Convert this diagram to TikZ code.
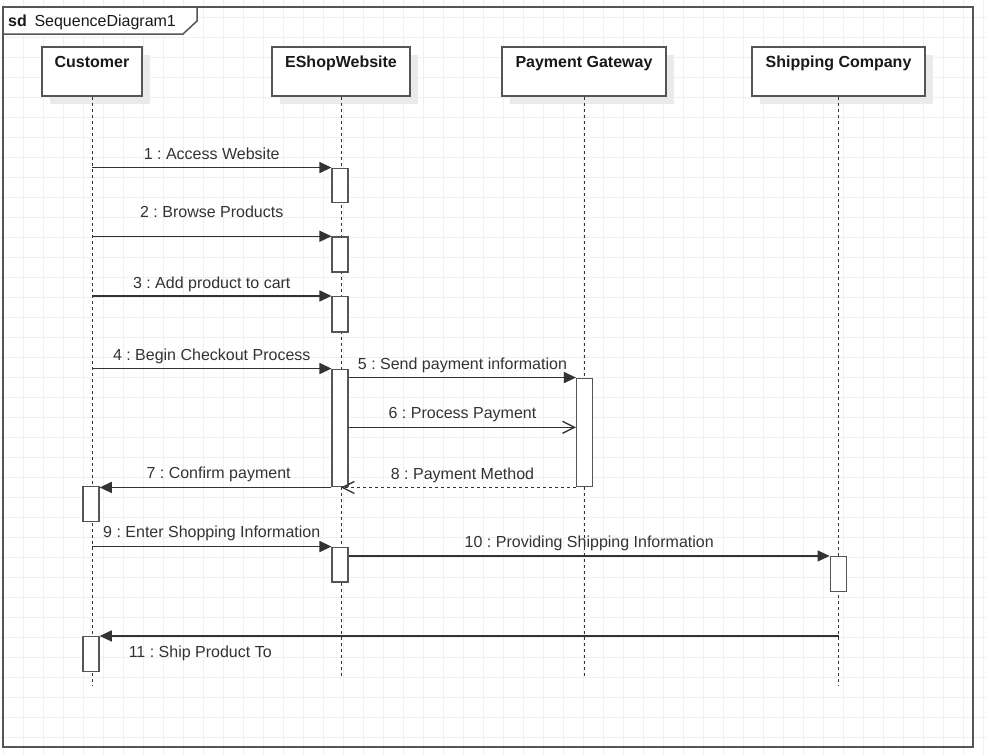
\documentclass[tikz,border=0pt]{standalone}
\usepackage{fontspec}
\setmainfont{Liberation Sans}
\usetikzlibrary{arrows.meta,shadows}
\definecolor{gridc}{HTML}{F0F0F0}
\definecolor{linec}{HTML}{333333}
\definecolor{boxc}{HTML}{555555}
\definecolor{shadowc}{HTML}{EAEAEA}
\definecolor{txtc}{HTML}{333333}
\frenchspacing
\begin{document}
\begin{tikzpicture}[x=1pt,y=-1pt,
  every node/.style={font=\fontsize{16pt}{19pt}\selectfont\frenchspacing},
  hdrbox/.style={draw=boxc, line width=1.5pt, fill=white, minimum height=49pt, inner sep=0pt,
    drop shadow={shadow xshift=8pt, shadow yshift=-8pt, fill=shadowc, opacity=1}},
  hdrtxt/.style={font=\fontsize{16pt}{19pt}\selectfont\bfseries, text=black!90, inner sep=0pt, text height=11.6pt, text depth=0pt},
  life/.style={draw=linec, line width=1pt, dash pattern=on 3pt off 3pt},
  actbox/.style={draw=boxc, line width=1.5pt, fill=white, minimum width=16pt, inner sep=0pt},
  msg/.style={draw=linec, line width=1.4pt, -{Triangle[length=12pt,width=11pt]}},
  msgopen/.style={draw=linec, line width=1.3pt, -{Straight Barb[length=12pt,width=12pt]}},
  msgret/.style={msgopen, dash pattern=on 3pt off 3pt},
  lbl/.style={text=txtc, inner sep=0pt, text height=11.6pt, text depth=0pt}
]
\useasboundingbox (0,0) rectangle (987,755);
\fill[white] (0,0) rectangle (987,755);
% grid
\foreach \gx in {3,23,...,983} \draw[gridc, line width=1pt] (\gx,0) -- (\gx,755);
\foreach \gy in {17,37,...,737} \draw[gridc, line width=1pt] (0,\gy) -- (987,\gy);
% frame
\draw[fill=white, draw=boxc, line width=1.5pt] (3,7) -- (197,7) -- (197,21) -- (183,34) -- (3,34);
\draw[draw=boxc, line width=2pt] (3,7) rectangle (973,747);
\node[anchor=base west, inner sep=0pt, font=\fontsize{16pt}{19pt}\selectfont\bfseries, text=black!90] (sdk) at (8,26.5) {sd};
\node[anchor=base west, inner sep=0pt, text=black!90] (sdname) at (34.3,26.5) {SequenceDiagram1};
% headers
\node[hdrbox, minimum width=100pt] (cust) at (92,71.5) {};
\node[hdrbox, minimum width=138pt] (eshop) at (341,71.5) {};
\node[hdrbox, minimum width=164pt] (pg) at (584,71.5) {};
\node[hdrbox, minimum width=173pt] (ship) at (838.5,71.5) {};
\node[hdrtxt] (custt) at ([yshift=-15.3pt]cust.north) {Customer};
\node[hdrtxt] (eshopt) at ([yshift=-15.3pt]eshop.north) {EShopWebsite};
\node[hdrtxt] (pgt) at ([yshift=-15.3pt]pg.north) {Payment Gateway};
\node[hdrtxt] (shipt) at ([yshift=-15.3pt]ship.north) {Shipping Company};
% lifelines
\coordinate (custend) at (92,685);
\coordinate (eshopend) at (341,677);
\coordinate (pgend) at (584,677);
\coordinate (shipend) at (838.5,685);
\draw[life] (cust.south) -- (custend);
\draw[life] (eshop.south) -- (eshopend);
\draw[life] (pg.south) -- (pgend);
\draw[life] (ship.south) -- (shipend);
% activations
\node[actbox, minimum height=34.4pt] (a1) at (340.2,185.5) {};
\node[actbox, minimum height=35pt] (a2) at (340.2,254.5) {};
\node[actbox, minimum height=35.3pt] (a3) at (340.2,314.35) {};
\node[actbox, minimum height=117.4pt] (a4) at (340.2,428) {};
\node[actbox, minimum height=34.7pt] (a5) at (340.2,564.65) {};
\node[actbox, minimum height=108.4pt] (p1) at (584.7,432.5) {};
\node[actbox, minimum height=35pt] (s1) at (838.3,574.2) {};
\node[actbox, minimum height=35pt] (c1) at (91,504.2) {};
\node[actbox, minimum height=35pt] (c2) at (91,654.2) {};
% messages
\coordinate (m6) at (0,427.3);
\draw[msg] (cust.south |- a1.north) -- node[lbl, yshift=14pt] (l1) {1 : Access Website} (a1.north west);
\draw[msg] (cust.south |- a2.north) -- node[lbl, yshift=24.7pt] (l2) {2 : Browse Products} (a2.north west);
\draw[msg] (cust.south |- a3.north) -- node[lbl, yshift=13.4pt] (l3) {3 : Add product to cart} (a3.north west);
\draw[msg] (cust.south |- a4.north) -- node[lbl, yshift=14.3pt] (l4) {4 : Begin Checkout Process} (a4.north west);
\draw[msg] (a4.east |- p1.north) -- node[lbl, yshift=14.3pt] (l5) {5 : Send payment information} (p1.north west);
\draw[msgopen] (a4.east |- m6) -- node[lbl, yshift=14.6pt] (l6) {6 : Process Payment} (p1.west |- m6);
\draw[msg] (a4.south west) -- node[lbl, yshift=14.4pt, xshift=3pt] (l7) {7 : Confirm payment} (a4.south west -| c1.east);
\draw[msgret] (p1.south west) -- node[lbl, yshift=13.4pt, xshift=4pt] (l8) {8 : Payment Method} (eshop.south |- p1.south);
\draw[msg] (cust.south |- a5.north) -- node[lbl, yshift=14.6pt] (l9) {9 : Enter Shopping Information} (a5.north west);
\draw[msg] (a5.east |- s1.north) -- node[lbl, yshift=14pt] (l10) {10 : Providing Shipping Information} (s1.north west);
\draw[msg] (ship.south |- c2.north) -- node[lbl, pos=0.864, yshift=-16pt] (l11) {11 : Ship Product To} (c2.north east);
\end{tikzpicture}
\end{document}
